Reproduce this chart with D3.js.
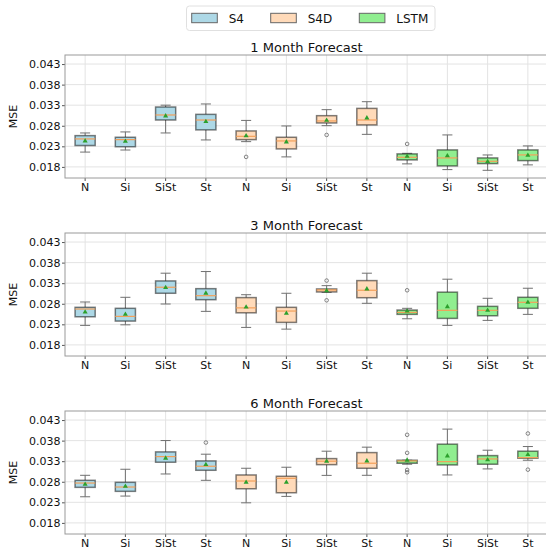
<!DOCTYPE html>
<html><head><meta charset="utf-8">
<script src="https://cdn.jsdelivr.net/npm/d3@7/dist/d3.min.js"></script>
<style>html,body{margin:0;padding:0;background:#fff;}svg{display:block;font-family:"DejaVu Sans",sans-serif;}</style>
</head><body>
<script>
const models = ["S4", "S4D", "LSTM"];
const categories = ["N", "Si", "SiSt", "St"];
const titles = ["1 Month Forecast", "3 Month Forecast", "6 Month Forecast"];
const yTicks = [0.018, 0.023, 0.028, 0.033, 0.038, 0.043];
const modelColors = ["#add8e6", "#ffdab9", "#90ee90"];

// each entry: [whiskerLow, q1, median, q3, whiskerHigh, mean]  order: S4 N,Si,SiSt,St, S4D ..., LSTM ...
const stats1 = [
  [0.0216, 0.0232, 0.0248, 0.0256, 0.02625, 0.0243],
  [0.0221, 0.0229, 0.02463, 0.0252, 0.0265, 0.0242],
  [0.02625, 0.0294, 0.03062, 0.03256, 0.0330, 0.03038],
  [0.02455, 0.0270, 0.0294, 0.03077, 0.0333, 0.0290],
  [0.02414, 0.02463, 0.02543, 0.02674, 0.0293, 0.02553],
  [0.02043, 0.02237, 0.02431, 0.0252, 0.02795, 0.02407],
  [0.02802, 0.02868, 0.02917, 0.03045, 0.03191, 0.0293],
  [0.02591, 0.0282, 0.0294, 0.03222, 0.03385, 0.02989],
  [0.01873, 0.0197, 0.02033, 0.02116, 0.0213, 0.02057],
  [0.01734, 0.01824, 0.02018, 0.02213, 0.02577, 0.02067],
  [0.01717, 0.0188, 0.01936, 0.02018, 0.0209, 0.01929],
  [0.01849, 0.01953, 0.02091, 0.02213, 0.0231, 0.02082]
];
const outliers1 = [[], [], [], [], [0.02043], [], [0.02577], [], [0.02358], [], [], []];

const stats3 = [
  [0.02274, 0.02484, 0.02672, 0.02713, 0.02843, 0.02598],
  [0.02288, 0.02379, 0.02493, 0.02689, 0.02957, 0.02542],
  [0.02794, 0.03055, 0.03201, 0.03355, 0.03543, 0.03192],
  [0.02615, 0.02899, 0.02996, 0.03167, 0.03583, 0.03055],
  [0.02225, 0.0258, 0.0270, 0.0295, 0.0302, 0.0272],
  [0.02183, 0.02347, 0.02623, 0.02713, 0.03055, 0.02567],
  [0.0308, 0.03087, 0.03135, 0.0316, 0.0324, 0.03118],
  [0.02811, 0.02947, 0.03128, 0.03363, 0.03543, 0.0316],
  [0.02435, 0.02542, 0.0259, 0.02647, 0.02689, 0.02623],
  [0.02274, 0.02444, 0.0264, 0.03082, 0.03397, 0.02728],
  [0.02396, 0.02508, 0.0264, 0.02737, 0.02933, 0.0264],
  [0.02542, 0.02689, 0.02835, 0.02957, 0.03177, 0.02835]
];
const outliers3 = [[], [], [], [], [], [], [0.03363, 0.02884], [], [0.03128], [], [], []];

const stats6 = [
  [0.02435, 0.02664, 0.02769, 0.02835, 0.02957, 0.02737],
  [0.02452, 0.02567, 0.02672, 0.02786, 0.03104, 0.02689],
  [0.02989, 0.03275, 0.03412, 0.03526, 0.03802, 0.03372],
  [0.02835, 0.03079, 0.03177, 0.03306, 0.0347, 0.03216],
  [0.02288, 0.0263, 0.02818, 0.02965, 0.03128, 0.02786],
  [0.02444, 0.02533, 0.02884, 0.02933, 0.03153, 0.02786],
  [0.02955, 0.03216, 0.033, 0.03363, 0.03543, 0.033],
  [0.02957, 0.03128, 0.0325, 0.03509, 0.03641, 0.03306],
  [0.03226, 0.0325, 0.03306, 0.03323, 0.03323, 0.03323],
  [0.02965, 0.03209, 0.03289, 0.03714, 0.0408, 0.03428],
  [0.03112, 0.03226, 0.03355, 0.03436, 0.03567, 0.03331],
  [0.03323, 0.03372, 0.03387, 0.03543, 0.03656, 0.0346]
];
const outliers6 = [[], [], [], [0.03753], [], [], [], [], [0.03941, 0.03502, 0.03087, 0.0303], [], [], [0.03973, 0.03094]];

const panels = [
  {title: titles[0], stats: stats1, outliers: outliers1},
  {title: titles[1], stats: stats3, outliers: outliers3},
  {title: titles[2], stats: stats6, outliers: outliers6}
];

const W = 546, H = 549;
const left = 65, right = 548, panelTops = [55, 233, 411], panelH = 123;
const yDomain = [0.0153, 0.0452];

const svg = d3.select("body").append("svg").attr("width", W).attr("height", H);

const keys = [];
models.forEach((m, mi) => categories.forEach((c, ci) => keys.push({key: m + "-" + c, model: mi, cat: c})));

const x = d3.scaleBand().domain(keys.map(k => k.key)).range([left, right]).padding(0);
const bw = x.bandwidth();
const boxW = bw * 0.5, capW = bw * 0.25;

panels.forEach((p, pi) => {
  const top = panelTops[pi], bottom = top + panelH;
  const y = d3.scaleLinear().domain(yDomain).range([bottom, top]);
  const g = svg.append("g");

  // grid
  g.selectAll(".hg").data(yTicks).join("line")
    .attr("x1", left).attr("x2", right)
    .attr("y1", d => y(d)).attr("y2", d => y(d))
    .attr("stroke", "#e3e3e3").attr("stroke-width", 1);
  g.selectAll(".vg").data(keys).join("line")
    .attr("x1", d => x(d.key) + bw / 2).attr("x2", d => x(d.key) + bw / 2)
    .attr("y1", top).attr("y2", bottom)
    .attr("stroke", "#e3e3e3").attr("stroke-width", 1);

  // axes
  const ya = g.append("g").attr("transform", `translate(${left},0)`)
    .call(d3.axisLeft(y).tickValues(yTicks).tickFormat(d3.format(".3f")).tickSize(3).tickPadding(1.5));
  ya.select(".domain").remove();
  ya.selectAll("line").attr("stroke", "#555");
  ya.selectAll("text").attr("font-size", 11).attr("fill", "#111").attr("font-family", "DejaVu Sans");

  const xa = g.append("g").attr("transform", `translate(0,${bottom})`)
    .call(d3.axisBottom(x).tickFormat(k => k.split("-")[1]).tickSize(3).tickPadding(2));
  xa.select(".domain").remove();
  xa.selectAll("line").attr("stroke", "#555");
  xa.selectAll("text").attr("font-size", 11).attr("fill", "#111").attr("font-family", "DejaVu Sans");

  // frame
  g.append("rect").attr("x", left).attr("y", top).attr("width", right - left).attr("height", panelH)
    .attr("fill", "none").attr("stroke", "#9a9a9a").attr("stroke-width", 1);

  // title
  g.append("text").attr("x", (left + right) / 2).attr("y", top - 3)
    .attr("text-anchor", "middle").attr("font-size", 13).attr("fill", "#111").text(p.title);

  // y label
  g.append("text").attr("transform", `translate(17,${(top + bottom) / 2}) rotate(-90)`)
    .attr("text-anchor", "middle").attr("font-size", 11).attr("fill", "#111").text("MSE");

  // boxes
  keys.forEach((k, i) => {
    const s = p.stats[i];
    const cx = x(k.key) + bw / 2;
    const bg = g.append("g");
    // whiskers
    bg.append("line").attr("x1", cx).attr("x2", cx).attr("y1", y(s[0])).attr("y2", y(s[1]))
      .attr("stroke", "#707070").attr("stroke-width", 1);
    bg.append("line").attr("x1", cx).attr("x2", cx).attr("y1", y(s[3])).attr("y2", y(s[4]))
      .attr("stroke", "#707070").attr("stroke-width", 1);
    // caps
    [s[0], s[4]].forEach(v => bg.append("line").attr("x1", cx - capW / 2).attr("x2", cx + capW / 2)
      .attr("y1", y(v)).attr("y2", y(v)).attr("stroke", "#707070").attr("stroke-width", 1));
    // box
    bg.append("rect").attr("x", cx - boxW / 2).attr("y", y(s[3]))
      .attr("width", boxW).attr("height", Math.max(0.5, y(s[1]) - y(s[3])))
      .attr("fill", modelColors[k.model]).attr("stroke", "rgba(0,0,0,0.5)").attr("stroke-width", 1.5);
    // median
    bg.append("line").attr("x1", cx - boxW / 2).attr("x2", cx + boxW / 2)
      .attr("y1", y(s[2])).attr("y2", y(s[2])).attr("stroke", "#f3a05a").attr("stroke-width", 1.2);
    // mean marker (triangle)
    bg.append("path").attr("d", d3.symbol(d3.symbolTriangle, 11)())
      .attr("transform", `translate(${cx},${y(s[5])})`).attr("fill", "#2ca02c");
    // outliers
    p.outliers[i].forEach(v => bg.append("circle").attr("cx", cx).attr("cy", y(v)).attr("r", 1.8)
      .attr("fill", "none").attr("stroke", "#666").attr("stroke-width", 0.8));
  });
});

// legend
const lg = svg.append("g");
lg.append("rect").attr("x", 186.5).attr("y", 6).attr("width", 248.5).attr("height", 24.5).attr("rx", 3)
  .attr("fill", "#fff").attr("stroke", "#e0e0e0").attr("stroke-width", 1);
const legX = [191.7, 270.7, 359.3];
models.forEach((m, i) => {
  lg.append("rect").attr("x", legX[i]).attr("y", 13.3).attr("width", 25.6).attr("height", 9.4)
    .attr("fill", modelColors[i]).attr("stroke", "#666").attr("stroke-width", 1);
  lg.append("text").attr("x", legX[i] + 37).attr("y", 22.5).attr("font-size", 12).attr("fill", "#111").text(m);
});
</script>
</body></html>
